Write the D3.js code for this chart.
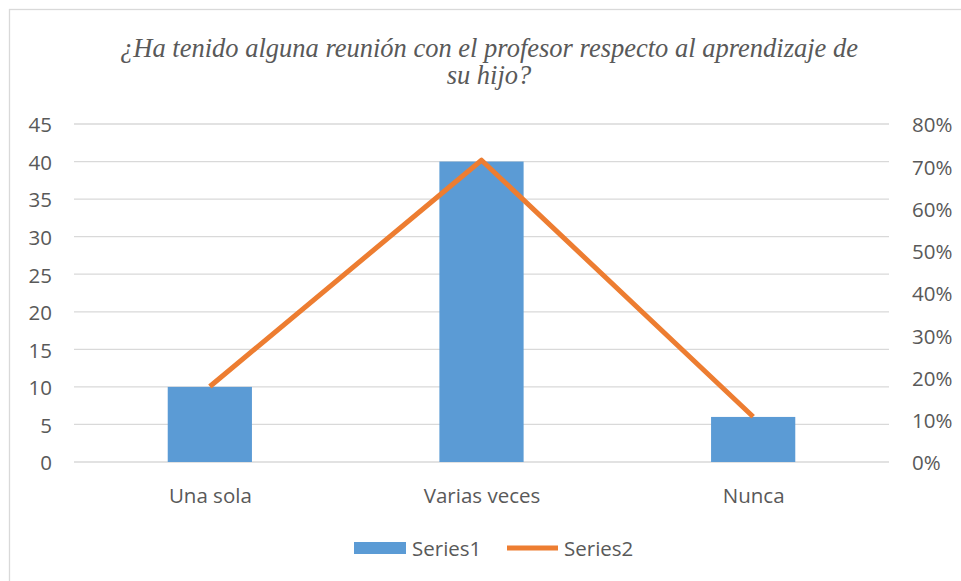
<!DOCTYPE html>
<html>
<head>
<meta charset="UTF-8">
<title>Reunión con el profesor</title>
<style>
  body { margin: 0; background: #fff; }
  svg { display: block; }
  .grid line { stroke: #d9d9d9; stroke-width: 1.3; }
</style>
</head>
<body>
<script src="https://cdn.jsdelivr.net/npm/d3@7"></script>
<script>
// data
var categories = ["Una sola", "Varias veces", "Nunca"];
var series1 = [10, 40, 6];
var series2 = [0.1786, 0.7143, 0.1071];
var leftTicks = [0, 5, 10, 15, 20, 25, 30, 35, 40, 45];
var rightTicks = [0, 0.1, 0.2, 0.3, 0.4, 0.5, 0.6, 0.7, 0.8];

var W = 961, H = 581;
var plot = { left: 74, right: 889, top: 124, bottom: 462 };
var font = "'Open Sans', 'Liberation Sans', sans-serif";
var fs = "20.5px";
var grey = "#595959";

var svg = d3.select("body").append("svg").attr("width", W).attr("height", H);

// chart frame
svg.append("rect").attr("x", 9.5).attr("y", 9.5).attr("width", W + 10).attr("height", H + 10)
  .attr("fill", "#fff").attr("stroke", "#d9d9d9").attr("stroke-width", 1.3);

var x = d3.scaleBand().domain(categories).range([plot.left, plot.right]).paddingInner(0.69).paddingOuter(0.345);
var xc = d3.scalePoint().domain(categories).range([plot.left, plot.right]).padding(0.5);
var y = d3.scaleLinear().domain([0, 45]).range([plot.bottom, plot.top]);
var y2 = d3.scaleLinear().domain([0, 0.8]).range([plot.bottom, plot.top]);

// title
var title = svg.append("text").attr("text-anchor", "middle")
  .style("font-family", "'Liberation Serif', 'Times New Roman', serif")
  .style("font-style", "italic").style("font-size", "26.5px").style("fill", grey);
title.append("tspan").attr("x", 489).attr("y", 57).text("¿Ha tenido alguna reunión con el profesor respecto al aprendizaje de");
title.append("tspan").attr("x", 489).attr("y", 84).text("su hijo?");

// gridlines
svg.append("g").attr("class", "grid").selectAll("line").data(leftTicks).join("line")
  .attr("x1", plot.left).attr("x2", plot.right)
  .attr("y1", function(d) { return y(d); }).attr("y2", function(d) { return y(d); });

function styleAxis(g) {
  g.select(".domain").remove();
  g.attr("font-family", null).attr("font-size", null);
  g.selectAll("text").style("font-family", font).style("font-size", fs).style("fill", grey);
}

// left axis
var yAxis = d3.axisLeft(y).tickValues(leftTicks).tickSize(0).tickPadding(22);
var gy = svg.append("g").attr("transform", "translate(" + plot.left + ",0)").call(yAxis).call(styleAxis);
gy.selectAll("text").attr("dy", "0.38em");

// right axis
var y2Axis = d3.axisRight(y2).tickValues(rightTicks).tickFormat(d3.format(".0%")).tickSize(0).tickPadding(23);
var gy2 = svg.append("g").attr("transform", "translate(" + plot.right + ",0)").call(y2Axis).call(styleAxis);
gy2.selectAll("text").attr("dy", "0.38em");

// bars
svg.append("g").selectAll("rect").data(series1).join("rect")
  .attr("x", function(d, i) { return x(categories[i]); })
  .attr("width", x.bandwidth())
  .attr("y", function(d) { return y(d); })
  .attr("height", function(d) { return y(0) - y(d); })
  .attr("fill", "#5b9bd5");

// line
var line = d3.line()
  .x(function(d, i) { return xc(categories[i]); })
  .y(function(d) { return y2(d); });
svg.append("path").datum(series2).attr("d", line)
  .attr("fill", "none").attr("stroke", "#ed7d31").attr("stroke-width", 5).attr("stroke-linejoin", "round");

// category axis
var xAxis = d3.axisBottom(xc).tickSize(0).tickPadding(26);
svg.append("g").attr("transform", "translate(0," + plot.bottom + ")").call(xAxis).call(styleAxis);

// legend
var leg = svg.append("g").attr("transform", "translate(0,548)")
  .style("font-family", font).style("font-size", fs);
leg.append("rect").attr("x", 354).attr("y", -6).attr("width", 52).attr("height", 12).attr("fill", "#5b9bd5");
leg.append("text").attr("x", 412).attr("y", 8).style("fill", grey).text("Series1");
leg.append("line").attr("x1", 507).attr("x2", 558).attr("y1", 0).attr("y2", 0)
  .attr("stroke", "#ed7d31").attr("stroke-width", 5);
leg.append("text").attr("x", 564).attr("y", 8).style("fill", grey).text("Series2");
</script>
</body>
</html>
